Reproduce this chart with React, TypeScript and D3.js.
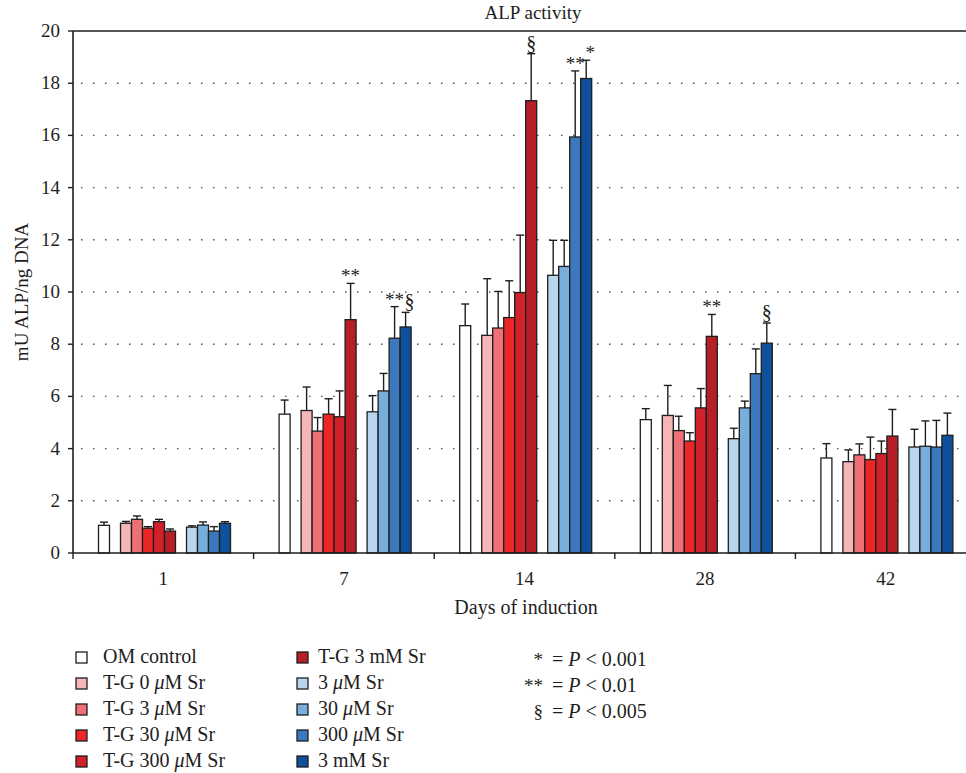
import React from "react";
import * as d3 from "d3";

// days of induction (x categories)
const days = ["1", "7", "14", "28", "42"];

const seriesNames = [
  "OM control",
  "T-G 0 μM Sr",
  "T-G 3 μM Sr",
  "T-G 30 μM Sr",
  "T-G 300 μM Sr",
  "T-G 3 mM Sr",
  "3 μM Sr",
  "30 μM Sr",
  "300 μM Sr",
  "3 mM Sr",
];

const seriesColors = [
  "#ffffff",
  "#f6b5b6",
  "#ef6f77",
  "#ec2627",
  "#d1212b",
  "#b51f25",
  "#b8d7ef",
  "#78aedc",
  "#3b78bd",
  "#0f4f9b",
];

// position of each series inside a day group (gaps between the three sets)
const seriesSlots = [0, 2, 3, 4, 5, 6, 8, 9, 10, 11];

// mean values per series, one per day
const omControl = [1.06, 5.32, 8.71, 5.11, 3.64];
const tg0uM = [1.14, 5.46, 8.34, 5.27, 3.5];
const tg3uM = [1.29, 4.67, 8.62, 4.69, 3.76];
const tg30uM = [0.95, 5.32, 9.02, 4.29, 3.58];
const tg300uM = [1.2, 5.22, 9.98, 5.56, 3.81];
const tg3mM = [0.84, 8.94, 17.33, 8.3, 4.48];
const sr3uM = [0.99, 5.41, 10.64, 4.38, 4.06];
const sr30uM = [1.07, 6.21, 10.98, 5.56, 4.09];
const sr300uM = [0.84, 8.23, 15.94, 6.87, 4.06];
const sr3mM = [1.14, 8.66, 18.18, 8.04, 4.51];

// standard deviations (upper error bars)
const omControlSd = [0.12, 0.54, 0.83, 0.42, 0.55];
const tg0uMSd = [0.07, 0.9, 2.17, 1.15, 0.45];
const tg3uMSd = [0.13, 0.52, 1.4, 0.55, 0.42];
const tg30uMSd = [0.06, 0.59, 1.41, 0.32, 0.86];
const tg300uMSd = [0.09, 0.99, 2.2, 0.74, 0.48];
const tg3mMSd = [0.08, 1.39, 1.8, 0.84, 1.02];
const sr3uMSd = [0.05, 0.62, 1.34, 0.4, 0.68];
const sr30uMSd = [0.12, 0.67, 1.0, 0.26, 0.97];
const sr300uMSd = [0.17, 1.21, 2.53, 0.95, 1.02];
const sr3mMSd = [0.06, 0.56, 0.7, 0.77, 0.85];

const yTicks = [0, 2, 4, 6, 8, 10, 12, 14, 16, 18, 20];

// significance marks: day, series index, symbol
const sigMarks = [
  { day: "7", series: 5, mark: "**" },
  { day: "7", series: 8, mark: "**" },
  { day: "7", series: 9, mark: "§" },
  { day: "14", series: 5, mark: "§" },
  { day: "14", series: 8, mark: "**" },
  { day: "14", series: 9, mark: "*" },
  { day: "28", series: 5, mark: "**" },
  { day: "28", series: 9, mark: "§" },
];

const sigLegend = [
  { mark: "*", p: "0.001" },
  { mark: "**", p: "0.01" },
  { mark: "§", p: "0.005" },
];

const means = [omControl, tg0uM, tg3uM, tg30uM, tg300uM, tg3mM, sr3uM, sr30uM, sr300uM, sr3mM];
const sds = [omControlSd, tg0uMSd, tg3uMSd, tg30uMSd, tg300uMSd, tg3mMSd, sr3uMSd, sr30uMSd, sr300uMSd, sr3mMSd];

const FONT = "'Liberation Serif', 'Times New Roman', serif";
const INK = "#1e1e1e";

function MuText({ text, x, y, size }: { text: string; x: number; y: number; size: number }) {
  const parts = text.split("μ");
  return (
    <text x={x} y={y} fontSize={size} fontFamily={FONT} fill={INK}>
      {parts.map((p, i) => (
        <React.Fragment key={i}>
          {i > 0 && <tspan fontStyle="italic">μ</tspan>}
          <tspan>{p}</tspan>
        </React.Fragment>
      ))}
    </text>
  );
}

export default function App() {
  const W = 966;
  const H = 773;
  const left = 73;
  const right = 976;
  const top = 31;
  const bottom = 553;

  const x = d3.scaleBand().domain(days).range([left, right]).padding(0);
  const inner = d3
    .scaleBand<number>()
    .domain(d3.range(12))
    .range([25.5, 25.5 + 132])
    .padding(0);
  const y = d3.scaleLinear().domain([0, 20]).range([bottom, top]);

  const bw = inner.bandwidth();

  const rows = days.flatMap((day, di) =>
    means.map((m, si) => ({
      day,
      si,
      mean: m[di],
      sd: sds[si][di],
      x0: (x(day) as number) + (inner(seriesSlots[si]) as number),
    }))
  );

  const legendRows = [663, 689, 715, 741, 767];

  return (
    <svg
      width={W}
      height={H}
      style={{ position: "absolute", left: 0, top: 0, background: "#fff" }}
    >
      {/* title */}
      <text x={533} y={19} textAnchor="middle" fontSize={19} fontFamily={FONT} fill={INK}>
        ALP activity
      </text>

      {/* dotted gridlines */}
      {yTicks
        .filter((t) => t > 0 && t < 20)
        .map((t) => (
          <line
            key={"g" + t}
            x1={left + 8}
            x2={right}
            y1={y(t)}
            y2={y(t)}
            stroke="#555"
            strokeWidth={1.4}
            strokeDasharray="1.5 10.5"
          />
        ))}

      {/* frame */}
      <line x1={left} x2={right} y1={top} y2={top} stroke={INK} strokeWidth={1.5} />
      <line x1={right} x2={right} y1={top} y2={bottom} stroke={INK} strokeWidth={1.5} />

      {/* bars */}
      {rows.map((r) => (
        <rect
          key={r.day + "-" + r.si}
          x={r.x0}
          y={y(r.mean)}
          width={bw}
          height={bottom - y(r.mean)}
          fill={seriesColors[r.si]}
          stroke={INK}
          strokeWidth={1.3}
        />
      ))}

      {/* error bars */}
      {rows.map((r) => {
        const cx = r.x0 + bw / 2;
        const yt = y(r.mean + r.sd);
        return (
          <g key={"e" + r.day + "-" + r.si} stroke={INK} strokeWidth={1.4}>
            <line x1={cx} x2={cx} y1={y(r.mean)} y2={yt} />
            <line x1={cx - 4} x2={cx + 4} y1={yt} y2={yt} />
          </g>
        );
      })}

      {/* significance marks */}
      {sigMarks.map((s, i) => {
        const di = days.indexOf(s.day);
        const cx = (x(s.day) as number) + (inner(seriesSlots[s.series]) as number) + bw / 2;
        const yt = y(means[s.series][di] + sds[s.series][di]);
        const isSect = s.mark === "§";
        // nudge a mark right when its left neighbour also carries a mark
        const crowded = sigMarks.some((o) => o.day === s.day && o.series === s.series - 1);
        return (
          <text
            key={"s" + i}
            x={cx + (crowded ? 4 : 0)}
            y={isSect ? yt - 4 : yt - 1}
            textAnchor="middle"
            fontSize={isSect ? 20 : 19}
            fontFamily={FONT}
            fill={INK}
          >
            {s.mark}
          </text>
        );
      })}

      {/* y axis */}
      <line x1={left} x2={left} y1={top} y2={bottom} stroke={INK} strokeWidth={1.6} />
      {yTicks.map((t) => (
        <g key={"y" + t}>
          <line x1={left - 5} x2={left} y1={y(t)} y2={y(t)} stroke={INK} strokeWidth={1.4} />
          <text
            x={left - 13}
            y={y(t) + 6}
            textAnchor="end"
            fontSize={19}
            fontFamily={FONT}
            fill={INK}
          >
            {t}
          </text>
        </g>
      ))}
      <text
        transform={`translate(28,${(top + bottom) / 2}) rotate(-90)`}
        textAnchor="middle"
        fontSize={19}
        fontFamily={FONT}
        fill={INK}
      >
        mU ALP/ng DNA
      </text>

      {/* x axis */}
      <line x1={left} x2={right} y1={bottom} y2={bottom} stroke={INK} strokeWidth={1.6} />
      {days.map((d) => (
        <line
          key={"xt" + d}
          x1={x(d) as number}
          x2={x(d) as number}
          y1={bottom}
          y2={bottom + 6}
          stroke={INK}
          strokeWidth={1.4}
        />
      ))}
      {days.map((d) => (
        <text
          key={"xl" + d}
          x={(x(d) as number) + x.bandwidth() / 2}
          y={585}
          textAnchor="middle"
          fontSize={19}
          fontFamily={FONT}
          fill={INK}
        >
          {d}
        </text>
      ))}
      <text x={526} y={614} textAnchor="middle" fontSize={20} fontFamily={FONT} fill={INK}>
        Days of induction
      </text>

      {/* legend */}
      {seriesNames.map((name, i) => {
        const col = i < 5 ? 0 : 1;
        const row = i % 5;
        const sx = col === 0 ? 76 : 297;
        const tx = col === 0 ? 103 : 318;
        const by = legendRows[row];
        return (
          <g key={"lg" + i}>
            <rect
              x={sx}
              y={by - 11}
              width={11}
              height={11}
              fill={seriesColors[i]}
              stroke={INK}
              strokeWidth={1.3}
            />
            <MuText text={name} x={tx} y={by} size={20} />
          </g>
        );
      })}

      {sigLegend.map((s, i) => (
        <g key={"sl" + i}>
          <text
            x={543}
            y={legendRows[i] + 3}
            textAnchor="end"
            fontSize={19}
            fontFamily={FONT}
            fill={INK}
          >
            {s.mark}
          </text>
          <text x={552} y={legendRows[i] + 3} fontSize={20} fontFamily={FONT} fill={INK}>
            = <tspan fontStyle="italic">P</tspan> {"<"} {s.p}
          </text>
        </g>
      ))}
    </svg>
  );
}
